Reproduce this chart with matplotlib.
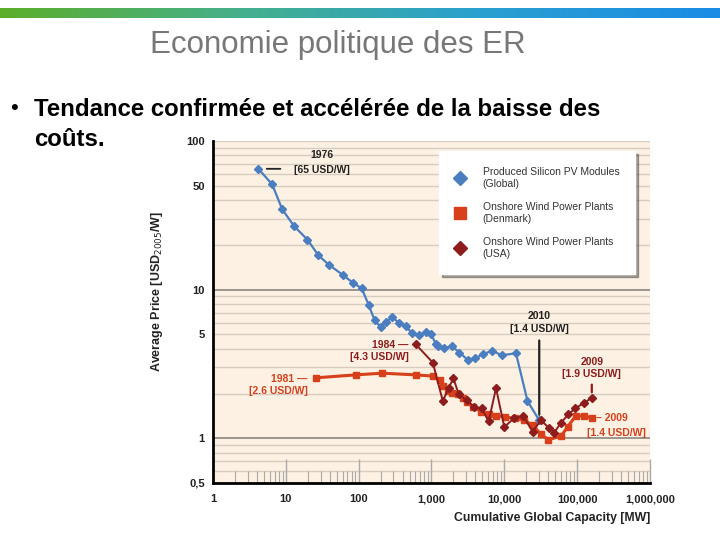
import numpy as np
import matplotlib
matplotlib.use("Agg")
import matplotlib.pyplot as plt
from matplotlib.colors import LinearSegmentedColormap
from matplotlib.lines import Line2D
from matplotlib.ticker import FixedLocator, NullFormatter

# data
pv_mw = [4.2, 6.5, 8.9, 13, 19.8, 28, 39, 60, 84, 110, 137, 166, 200, 240, 290,
         357, 450, 543, 670, 846, 990, 1150, 1220, 1507, 1923, 2420, 3143, 4010,
         5050, 6770, 9300, 14450, 20800, 30150]
pv_price = [65, 51, 34.8, 26.7, 21.7, 17, 14.7, 12.6, 11.1, 10.2, 7.9, 6.2, 5.6,
            6.1, 6.5, 6.0, 5.65, 5.07, 4.94, 5.2, 5.0, 4.3, 4.2, 4.07, 4.15, 3.77,
            3.37, 3.45, 3.68, 3.87, 3.62, 3.73, 1.78, 1.32]

dk_mw = [25.8, 91, 211, 604, 1042, 1290, 1430, 1673, 1923, 2296, 2690, 3050, 3760,
         4790, 6090, 7690, 10300, 14200, 18800, 24900, 31800, 40400, 59800, 73700,
         95900, 124700, 158800]
dk_price = [2.55, 2.67, 2.74, 2.67, 2.62, 2.45, 2.25, 2.08, 2.02, 1.99, 1.87, 1.76,
            1.63, 1.51, 1.46, 1.42, 1.39, 1.36, 1.32, 1.22, 1.06, 0.98, 1.03, 1.19,
            1.42, 1.41, 1.37]

us_mw = [604, 1042, 1430, 1727, 2000, 2370, 3050, 3880, 4890, 6090, 7690, 10000,
         13700, 18200, 24400, 31800, 41300, 48400, 59800, 76000, 94000, 124700, 158800]
us_price = [4.3, 3.23, 1.78, 2.19, 2.53, 1.97, 1.80, 1.62, 1.59, 1.30, 2.17, 1.19,
            1.37, 1.41, 1.11, 1.32, 1.17, 1.09, 1.27, 1.45, 1.59, 1.73, 1.87]

x_ticks = [1, 10, 100, 1000, 10000, 100000, 1000000]
x_labels = ["1", "10", "100", "1,000", "10,000", "100,000", "1,000,000"]
y_ticks = [0.5, 1, 5, 10, 50, 100]
y_labels = ["0,5", "1", "5", "10", "50", "100"]
series_names = ["Produced Silicon PV Modules\n(Global)",
                "Onshore Wind Power Plants\n(Denmark)",
                "Onshore Wind Power Plants\n(USA)"]

c_pv = "#4a7ec0"
c_dk = "#d8401c"
c_us = "#8e1c1c"
chart_font = ["Liberation Sans Narrow", "Liberation Sans", "DejaVu Sans"]

fig = plt.figure(figsize=(7.2, 5.4), dpi=100)
fig.patch.set_facecolor("white")

# top gradient bar
bar = fig.add_axes([0, 1 - 18 / 540, 1, 10 / 540])
cmap = LinearSegmentedColormap.from_list("slide", ["#5cae2a", "#45b08c", "#2aa0d0", "#1a8ce6"])
bar.imshow(np.linspace(0, 1, 256)[None, :], aspect="auto", cmap=cmap)
bar.axis("off")

fig.text(338 / 720, 1 - 45 / 540, "Economie politique des ER", ha="center", va="center",
         fontsize=22.5, color="#777777", family="Liberation Sans")
fig.text(10 / 720, 1 - 109 / 540, "•", ha="left", va="center", fontsize=16,
         family="Liberation Sans", color="black")
fig.text(34 / 720, 1 - 109 / 540, "Tendance confirmée et accélérée de la baisse des",
         ha="left", va="center", fontsize=17.3, weight="bold", family="Liberation Sans")
fig.text(34 / 720, 1 - 139 / 540, "coûts.", ha="left", va="center", fontsize=17.3,
         weight="bold", family="Liberation Sans")

ax = fig.add_axes([213 / 720, 1 - 483 / 540, 437 / 720, 342 / 540])
ax.set_facecolor("#fcf1e2")
ax.set_xscale("log")
ax.set_yscale("log")
ax.set_xlim(1, 1e6)
ax.set_ylim(0.5, 100)

# horizontal grid at every minor step
for dec in [0.1, 1, 10]:
    for m in range(1, 10):
        v = dec * m
        if 0.5 < v < 100:
            major = m == 1
            ax.axhline(v, color="#8a8680" if major else "#d6ccbf",
                       lw=1.2 if major else 1.0, zorder=1)
ax.axhline(100, color="#d6ccbf", lw=1.0, zorder=1)

ax.plot(pv_mw, pv_price, color=c_pv, marker="D", ms=4.5, lw=1.6, zorder=4)
ax.plot(dk_mw, dk_price, color=c_dk, marker="s", ms=5, lw=2.2, zorder=3)
ax.plot(us_mw, us_price, color=c_us, marker="D", ms=4, lw=1.4, zorder=5)

for s in ["top", "right"]:
    ax.spines[s].set_visible(False)
ax.spines["left"].set_linewidth(2)
ax.spines["bottom"].set_linewidth(2)

ax.xaxis.set_major_locator(FixedLocator(x_ticks))
ax.set_xticklabels(x_labels)
ax.xaxis.set_minor_locator(FixedLocator([d * m for d in x_ticks[:-1] for m in range(2, 10)]))
ax.xaxis.set_minor_formatter(NullFormatter())
ax.tick_params(axis="x", which="major", direction="in", length=17, color="#aaaaaa",
               width=1, pad=8, labelsize=8)
ax.tick_params(axis="x", which="minor", direction="in", length=9, color="#aaaaaa", width=0.8)
ax.yaxis.set_major_locator(FixedLocator(y_ticks))
ax.set_yticklabels(y_labels)
ax.yaxis.set_minor_locator(FixedLocator([]))
ax.tick_params(axis="y", which="major", length=0, pad=6, labelsize=8)
for lab in ax.get_xticklabels() + ax.get_yticklabels():
    lab.set_family(chart_font)
    lab.set_weight("bold")
    lab.set_color("#222222")

ax.set_xlabel("Cumulative Global Capacity [MW]", family=chart_font, weight="bold",
              fontsize=8.8, color="#222222")
ax.xaxis.set_label_coords(1.0, -0.085)
ax.xaxis.label.set_ha("right")
ax.set_ylabel("Average Price [USD$_{2005}$/W]", family=chart_font, weight="bold",
              fontsize=9, color="#222222")
ax.yaxis.set_label_coords(-0.11, 0.56)

# legend
handles = [Line2D([], [], ls="none", marker="D", ms=7, color=c_pv),
           Line2D([], [], ls="none", marker="s", ms=8, color=c_dk),
           Line2D([], [], ls="none", marker="D", ms=7, color=c_us)]
leg = ax.legend(handles, series_names,
                loc="upper right", bbox_to_anchor=(0.978, 0.985), frameon=True,
                fancybox=False, shadow=True, labelspacing=1.3, borderpad=1.5,
                handlelength=1.0, handletextpad=1.7, prop={"family": chart_font, "size": 7.5})
leg.get_frame().set_edgecolor("white")
for t in leg.get_texts():
    t.set_color("#333333")

# annotations (offsets in pixels)
tkw = dict(family=chart_font, weight="bold", fontsize=7.5, va="center",
           textcoords="offset pixels")
ax.annotate("1976", (pv_mw[0], pv_price[0]), xytext=(64, 14), color="#222222", ha="center", **tkw)
ax.annotate("[65 USD/W]", (pv_mw[0], pv_price[0]), xytext=(64, -1), color="#222222",
            ha="center", **tkw)
ax.annotate("", (pv_mw[0], pv_price[0]), xytext=(22, 0), textcoords="offset pixels",
            arrowprops=dict(arrowstyle="-", color="#222222", lw=1.3, shrinkA=0, shrinkB=6))
ax.annotate("2010\n[1.4 USD/W]", (pv_mw[-1], pv_price[-1]), xytext=(0, 98),
            color="#222222", linespacing=1.3, ha="center",
            arrowprops=dict(arrowstyle="-", color="#222222", lw=1.6, shrinkA=3, shrinkB=4), **tkw)
ax.annotate("1984 —\n[4.3 USD/W]", (us_mw[0], us_price[0]), xytext=(-7, -7),
            color=c_us, linespacing=1.3, ha="right", multialignment="right", **tkw)
ax.annotate("1981 —\n[2.6 USD/W]", (dk_mw[0], dk_price[0]), xytext=(-8, -7),
            color=c_dk, linespacing=1.3, ha="right", multialignment="right", **tkw)
ax.annotate("2009\n[1.9 USD/W]", (us_mw[-1], us_price[-1]), xytext=(0, 30),
            color=c_us, linespacing=1.3, ha="center",
            arrowprops=dict(arrowstyle="-", color=c_us, lw=1.6, shrinkA=2, shrinkB=4), **tkw)
ax.annotate("– 2009", (dk_mw[-1], dk_price[-1]), xytext=(4, 0), color=c_dk, ha="left", **tkw)
ax.annotate("[1.4 USD/W]", (dk_mw[-1], dk_price[-1]), xytext=(-5, -15), color=c_dk,
            ha="left", **tkw)

fig.savefig("out.png", dpi=100)
